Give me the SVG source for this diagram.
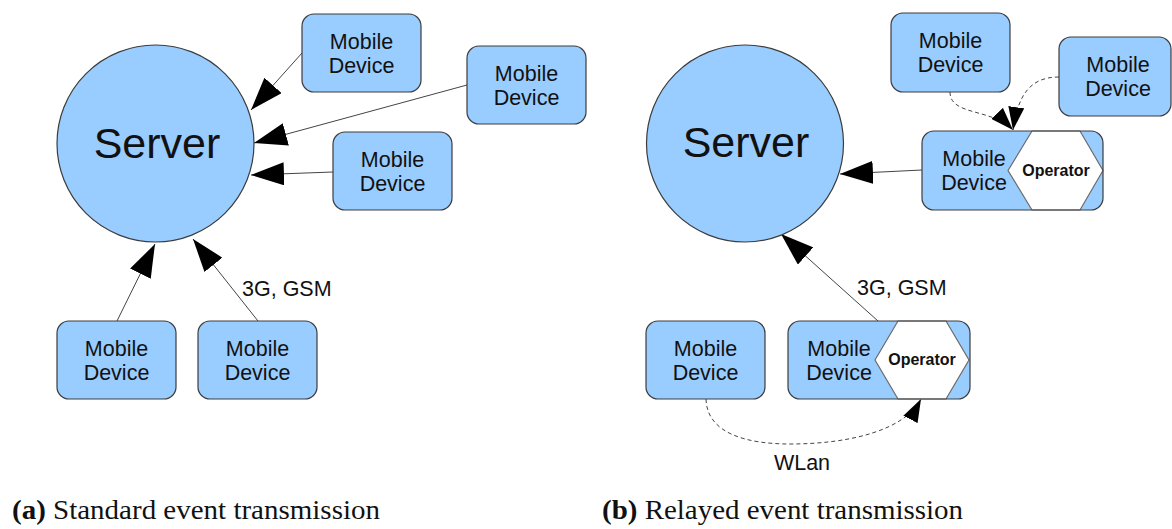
<svg xmlns="http://www.w3.org/2000/svg" width="1172" height="529" viewBox="0 0 1172 529">
<defs>
<style>
.box{fill:#99ccff;stroke:#3c3c3c;stroke-width:1.2}
.frame{fill:none;stroke:#3c3c3c;stroke-width:1.2}
.srv{fill:#99ccff;stroke:#3c3c3c;stroke-width:1.2}
.hex{fill:#ffffff;stroke:#6a6a6a;stroke-width:1.2}
.t{font-family:"Liberation Sans",Arial,sans-serif;font-size:21.5px;fill:#111;text-anchor:middle}
.big{font-family:"Liberation Sans",Arial,sans-serif;font-size:43px;fill:#111;text-anchor:middle}
.op{font-family:"Liberation Sans",Arial,sans-serif;font-size:16px;font-weight:bold;fill:#111;text-anchor:middle}
.lbl{font-family:"Liberation Sans",Arial,sans-serif;font-size:21.5px;fill:#111}
.cap{font-family:"Liberation Serif","Times New Roman",serif;font-size:28px;fill:#111}
.solid{fill:none;stroke:#444;stroke-width:1;marker-end:url(#ah)}
.dash{fill:none;stroke:#444;stroke-width:1;stroke-dasharray:4 3;marker-end:url(#ahs)}
</style>
<marker id="ah" viewBox="0 0 33 23" refX="33" refY="11.5" markerWidth="33" markerHeight="23" markerUnits="userSpaceOnUse" orient="auto">
<path d="M0,0 L33,11.5 L0,23 z" fill="#000"/>
</marker>
<marker id="ahs" viewBox="0 0 23 16" refX="23" refY="8" markerWidth="23" markerHeight="16" markerUnits="userSpaceOnUse" orient="auto">
<path d="M0,0 L23,8 L0,16 z" fill="#000"/>
</marker>
</defs>
<rect width="1172" height="529" fill="#fff"/>

<g id="connectors">
<path class="solid" d="M302,53 L251,110"/>
<path class="solid" d="M467,85 L254,143"/>
<path class="solid" d="M333,172 L251,175"/>
<path class="solid" d="M117,321 L155,244"/>
<path class="solid" d="M258,321 L193,239"/>
<path class="solid" d="M922,170 L840,174"/>
<path class="solid" d="M878,321 L781,234"/>
<path class="dash" d="M950,92 C950,116 992,108 1013,130"/>
<path class="dash" d="M1059,77 C1030,77 1018,95 1013,130"/>
<path class="dash" d="M706,399 C707,435 750,444 790,444 C850,444 905,430 921,399"/>
</g>

<g id="server-a">
<circle class="srv" cx="155.5" cy="143.5" r="98.5"/>
<text class="big" x="157" y="158">Server</text>
</g>
<g id="device-a1">
<rect class="box" x="302" y="14" width="119" height="78" rx="12"/>
<text class="t" x="361.5" y="49">Mobile</text><text class="t" x="361.5" y="73">Device</text>
</g>
<g id="device-a2">
<rect class="box" x="467" y="46" width="119" height="78" rx="12"/>
<text class="t" x="526.5" y="81">Mobile</text><text class="t" x="526.5" y="105">Device</text>
</g>
<g id="device-a3">
<rect class="box" x="333" y="132" width="119" height="78" rx="12"/>
<text class="t" x="392.5" y="167">Mobile</text><text class="t" x="392.5" y="191">Device</text>
</g>
<g id="device-a4">
<rect class="box" x="57" y="321" width="119" height="78" rx="12"/>
<text class="t" x="116.5" y="356">Mobile</text><text class="t" x="116.5" y="380">Device</text>
</g>
<g id="device-a5">
<rect class="box" x="198" y="321" width="119" height="78" rx="12"/>
<text class="t" x="257.5" y="356">Mobile</text><text class="t" x="257.5" y="380">Device</text>
</g>
<text class="lbl" x="242" y="296">3G, GSM</text>

<g id="server-b">
<circle class="srv" cx="745" cy="143.5" r="98.5"/>
<text class="big" x="746" y="157">Server</text>
</g>
<g id="device-b1">
<rect class="box" x="891" y="13" width="119" height="79" rx="12"/>
<text class="t" x="950.5" y="48">Mobile</text><text class="t" x="950.5" y="72">Device</text>
</g>
<g id="device-b2">
<rect class="box" x="1059" y="37" width="112" height="79" rx="12"/>
<text class="t" x="1118" y="72">Mobile</text><text class="t" x="1118" y="96">Device</text>
</g>
<g id="relay-b-top">
<rect class="box" x="922" y="131" width="181" height="79" rx="12" style="stroke:none"/>
<polygon class="hex" points="1008,170.5 1032,131 1080,131 1103,170.5 1080,210 1032,210"/>
<rect class="frame" x="922" y="131" width="181" height="79" rx="12"/>
<text class="t" x="974" y="166">Mobile</text><text class="t" x="974" y="190">Device</text>
<text class="op" x="1056" y="176">Operator</text>
</g>
<g id="device-b4">
<rect class="box" x="646" y="321" width="119" height="78" rx="12"/>
<text class="t" x="705.5" y="356">Mobile</text><text class="t" x="705.5" y="380">Device</text>
</g>
<g id="relay-b-bottom">
<rect class="box" x="788" y="321" width="182" height="78" rx="12" style="stroke:none"/>
<polygon class="hex" points="875,360 898,321 946,321 969,360 946,399 898,399"/>
<rect class="frame" x="788" y="321" width="182" height="78" rx="12"/>
<text class="t" x="839" y="356">Mobile</text><text class="t" x="839" y="380">Device</text>
<text class="op" x="922" y="365">Operator</text>
</g>
<text class="lbl" x="857" y="295">3G, GSM</text>
<text class="t" x="802" y="470">WLan</text>

<text class="cap" x="12" y="519" textLength="368" lengthAdjust="spacingAndGlyphs"><tspan font-weight="bold">(a)</tspan> Standard event transmission</text>
<text class="cap" x="602" y="519" textLength="361" lengthAdjust="spacingAndGlyphs"><tspan font-weight="bold">(b)</tspan> Relayed event transmission</text>
</svg>
